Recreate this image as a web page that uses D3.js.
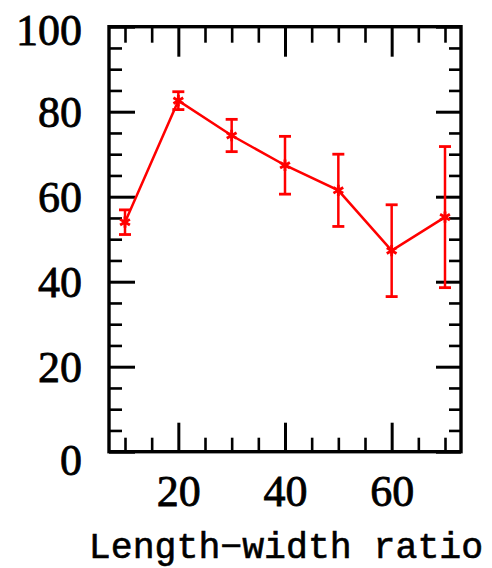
<!DOCTYPE html>
<html>
<head>
<meta charset="utf-8">
<script src="https://cdn.jsdelivr.net/npm/d3@7"></script>
<style>
  html, body { margin: 0; padding: 0; background: #fff; }
  svg { display: block; }
</style>
</head>
<body>
<svg id="chart" width="492" height="568"></svg>
<script>
// ---- data ----
const ratio = [10, 20, 30, 40, 50, 60, 70];
const meanValue = [54.0, 82.6, 74.4, 67.4, 61.5, 47.3, 55.2];
const errValue = [2.9, 2.1, 3.8, 6.8, 8.5, 10.8, 16.6];
const xMajorTicks = [20, 40, 60];
const xMinorTicks = [10, 15, 25, 30, 35, 45, 50, 55, 65, 70];
const yMajorTicks = [0, 20, 40, 60, 80, 100];
const yMinorTicks = [5, 10, 15, 25, 30, 35, 45, 50, 55, 65, 70, 75, 85, 90, 95];
const xLabel = "Length\u2212width ratio";

// ---- layout ----
const pLeft = 109, pRight = 461, pTop = 26.7, pBottom = 451.7;
const svg = d3.select("#chart");
const x = d3.scaleLinear().domain([7, 73]).range([pLeft, pRight]);
const y = d3.scaleLinear().domain([0, 100]).range([pBottom, pTop]);

const tickColor = "#000";
function styleAxis(g, w) {
  g.select(".domain").remove();
  g.selectAll(".tick line").attr("stroke", tickColor).attr("stroke-width", w);
}

// minor ticks
svg.append("g").attr("transform", `translate(${pLeft},0)`)
  .call(d3.axisLeft(y).tickValues(yMinorTicks).tickSize(-13).tickFormat(""))
  .call(g => styleAxis(g, 2.6));
svg.append("g").attr("transform", `translate(${pRight},0)`)
  .call(d3.axisRight(y).tickValues(yMinorTicks).tickSize(-12).tickFormat(""))
  .call(g => styleAxis(g, 2.6));
svg.append("g").attr("transform", `translate(0,${pBottom})`)
  .call(d3.axisBottom(x).tickValues(xMinorTicks).tickSize(-14).tickFormat(""))
  .call(g => styleAxis(g, 2.6));
svg.append("g").attr("transform", `translate(0,${pTop})`)
  .call(d3.axisTop(x).tickValues(xMinorTicks).tickSize(-16).tickFormat(""))
  .call(g => styleAxis(g, 2.6));

// major ticks
const yAxisL = svg.append("g").attr("transform", `translate(${pLeft},0)`)
  .call(d3.axisLeft(y).tickValues(yMajorTicks).tickSize(-26).tickPadding(27).tickFormat(d3.format("d")))
  .call(g => styleAxis(g, 3));
svg.append("g").attr("transform", `translate(${pRight},0)`)
  .call(d3.axisRight(y).tickValues(yMajorTicks).tickSize(-25).tickFormat(""))
  .call(g => styleAxis(g, 3));
const xAxisB = svg.append("g").attr("transform", `translate(0,${pBottom})`)
  .call(d3.axisBottom(x).tickValues(xMajorTicks).tickSize(-29).tickFormat(d3.format("d")))
  .call(g => styleAxis(g, 3));
svg.append("g").attr("transform", `translate(0,${pTop})`)
  .call(d3.axisTop(x).tickValues(xMajorTicks).tickSize(-30).tickFormat(""))
  .call(g => styleAxis(g, 3));

const labelFont = "'Liberation Serif', 'Times New Roman', serif";
yAxisL.selectAll(".tick text")
  .attr("font-family", labelFont).attr("font-size", 44).attr("fill", "#000")
  .attr("dy", d => d === 0 ? "0.52em" : (d === 100 ? "0.4em" : "0.33em"))
  .attr("stroke", "#000").attr("stroke-width", 0.8);
xAxisB.selectAll(".tick text")
  .attr("font-family", labelFont).attr("font-size", 44).attr("fill", "#000")
  .attr("y", 54.5).attr("dy", 0)
  .attr("stroke", "#000").attr("stroke-width", 0.8);

// frame
svg.append("rect")
  .attr("x", pLeft).attr("y", pTop)
  .attr("width", pRight - pLeft).attr("height", pBottom - pTop)
  .attr("fill", "none").attr("stroke", "#000").attr("stroke-width", 3.4);

// x label
svg.append("text")
  .attr("x", (pLeft + pRight) / 2 + 1).attr("y", 558)
  .attr("text-anchor", "middle")
  .attr("font-family", "'Liberation Mono', 'Courier New', monospace")
  .attr("font-size", 36.5).attr("fill", "#000")
  .attr("stroke", "#000").attr("stroke-width", 0.6)
  .text(xLabel);

// ---- data marks ----
const red = "#ff0000";
const data = ratio.map((r, i) => ({ r, m: meanValue[i], e: errValue[i] }));
const g = svg.append("g");

g.append("path")
  .datum(data)
  .attr("fill", "none").attr("stroke", red).attr("stroke-width", 2.5)
  .attr("d", d3.line().x(d => x(d.r)).y(d => y(d.m)));

const cap = 6;
const eb = g.selectAll(".eb").data(data).join("g").attr("class", "eb");
eb.append("line")
  .attr("x1", d => x(d.r)).attr("x2", d => x(d.r))
  .attr("y1", d => y(d.m - d.e)).attr("y2", d => y(d.m + d.e))
  .attr("stroke", red).attr("stroke-width", 2.5);
eb.append("line")
  .attr("x1", d => x(d.r) - cap).attr("x2", d => x(d.r) + cap)
  .attr("y1", d => y(d.m + d.e)).attr("y2", d => y(d.m + d.e))
  .attr("stroke", red).attr("stroke-width", 2.8);
eb.append("line")
  .attr("x1", d => x(d.r) - cap).attr("x2", d => x(d.r) + cap)
  .attr("y1", d => y(d.m - d.e)).attr("y2", d => y(d.m - d.e))
  .attr("stroke", red).attr("stroke-width", 2.8);

g.selectAll(".mk").data(data).join("path").attr("class", "mk")
  .attr("transform", d => `translate(${x(d.r)},${y(d.m)})`)
  .attr("d", d3.symbol().type(d3.symbolAsterisk).size(90))
  .attr("fill", "none").attr("stroke", red).attr("stroke-width", 2.8);
</script>
</body>
</html>
